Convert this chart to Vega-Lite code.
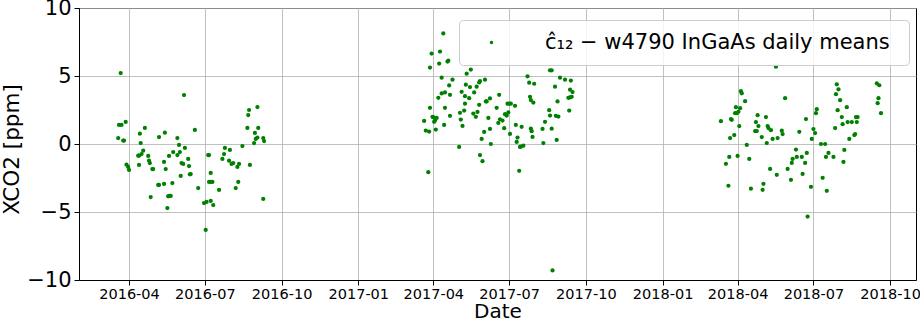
{
  "$schema": "https://vega.github.io/schema/vega-lite/v6.json",
  "width": 837,
  "height": 272,
  "autosize": {"type": "none"},
  "padding": {"left": 79, "top": 8, "right": 4, "bottom": 42},
  "background": "white",
  "config": {
    "view": {"stroke": "black", "strokeWidth": 1},
    "font": "DejaVu Sans",
    "axis": {
      "grid": true,
      "gridColor": "#b0b0b0",
      "gridWidth": 0.8,
      "domainColor": "black",
      "tickColor": "black",
      "labelColor": "black",
      "titleColor": "black",
      "titleFontWeight": "normal",
      "tickSize": 5,
      "labelFlush": false,
      "labelOverlap": false
    }
  },
  "data": {"values": [
    {"date":"2016-03-22","xco2":5.22},{"date":"2016-06-06","xco2":3.60},{"date":"2016-03-20","xco2":1.40},{"date":"2016-03-23","xco2":1.40},
    {"date":"2016-03-28","xco2":1.62},{"date":"2016-03-19","xco2":0.44},{"date":"2016-03-25","xco2":0.25},{"date":"2016-03-26","xco2":0.25},
    {"date":"2016-03-29","xco2":-1.52},{"date":"2016-03-31","xco2":-1.69},{"date":"2016-04-01","xco2":-1.91},{"date":"2016-04-14","xco2":0.76},
    {"date":"2016-04-20","xco2":1.18},{"date":"2016-04-15","xco2":0.07},{"date":"2016-04-18","xco2":-0.49},{"date":"2016-04-16","xco2":-0.74},
    {"date":"2016-04-13","xco2":-0.86},{"date":"2016-04-12","xco2":-0.86},{"date":"2016-04-13","xco2":-1.54},{"date":"2016-04-24","xco2":-0.88},
    {"date":"2016-04-25","xco2":-1.23},{"date":"2016-04-26","xco2":-1.40},{"date":"2016-04-29","xco2":-1.84},{"date":"2016-04-30","xco2":-1.84},
    {"date":"2016-04-27","xco2":-3.90},{"date":"2016-05-07","xco2":0.51},{"date":"2016-05-14","xco2":0.83},{"date":"2016-05-13","xco2":-1.32},
    {"date":"2016-05-15","xco2":-1.84},{"date":"2016-05-06","xco2":-3.01},{"date":"2016-05-07","xco2":-3.01},{"date":"2016-05-13","xco2":-2.94},
    {"date":"2016-05-23","xco2":-2.87},{"date":"2016-05-18","xco2":-3.85},{"date":"2016-05-19","xco2":-3.82},{"date":"2016-05-21","xco2":-3.82},
    {"date":"2016-05-17","xco2":-4.71},{"date":"2016-05-19","xco2":-0.88},{"date":"2016-05-24","xco2":-0.59},{"date":"2016-05-29","xco2":0.44},
    {"date":"2016-05-31","xco2":-0.07},{"date":"2016-05-29","xco2":-0.81},{"date":"2016-06-01","xco2":-0.59},{"date":"2016-06-07","xco2":-0.29},
    {"date":"2016-06-03","xco2":-1.40},{"date":"2016-06-05","xco2":-1.47},{"date":"2016-06-02","xco2":-2.35},{"date":"2016-06-11","xco2":-1.10},
    {"date":"2016-06-12","xco2":-1.62},{"date":"2016-06-13","xco2":-2.23},{"date":"2016-06-14","xco2":-2.21},{"date":"2016-06-19","xco2":1.03},
    {"date":"2016-06-23","xco2":-3.24},{"date":"2016-07-05","xco2":-0.81},{"date":"2016-07-06","xco2":-0.81},{"date":"2016-07-08","xco2":-2.13},
    {"date":"2016-07-06","xco2":-2.79},{"date":"2016-07-08","xco2":-2.79},{"date":"2016-07-10","xco2":-2.79},{"date":"2016-06-30","xco2":-4.34},
    {"date":"2016-07-03","xco2":-4.26},{"date":"2016-07-08","xco2":-4.19},{"date":"2016-07-11","xco2":-4.49},{"date":"2016-07-02","xco2":-6.32},
    {"date":"2016-07-18","xco2":-3.38},{"date":"2016-07-25","xco2":-0.29},{"date":"2016-07-31","xco2":-0.44},{"date":"2016-07-24","xco2":-0.74},
    {"date":"2016-07-22","xco2":-1.10},{"date":"2016-07-30","xco2":-1.23},{"date":"2016-08-02","xco2":-1.47},{"date":"2016-08-04","xco2":-1.40},
    {"date":"2016-08-09","xco2":-1.69},{"date":"2016-08-11","xco2":-1.47},{"date":"2016-08-07","xco2":-3.24},{"date":"2016-08-10","xco2":-2.79},
    {"date":"2016-08-15","xco2":-0.15},{"date":"2016-08-24","xco2":-1.54},{"date":"2016-08-21","xco2":1.18},{"date":"2016-08-30","xco2":0.81},
    {"date":"2016-08-22","xco2":2.13},{"date":"2016-08-23","xco2":2.50},{"date":"2016-09-02","xco2":2.72},{"date":"2016-09-03","xco2":1.18},
    {"date":"2016-08-31","xco2":0.37},{"date":"2016-09-02","xco2":0.47},{"date":"2016-09-09","xco2":0.44},{"date":"2016-09-10","xco2":0.22},
    {"date":"2016-08-29","xco2":0.07},{"date":"2016-09-09","xco2":-4.04},

    {"date":"2017-04-13","xco2":8.13},{"date":"2017-03-30","xco2":6.65},{"date":"2017-04-09","xco2":6.80},
    {"date":"2017-04-08","xco2":5.91},{"date":"2017-04-18","xco2":6.06},{"date":"2017-04-19","xco2":6.13},{"date":"2017-03-28","xco2":5.62},
    {"date":"2017-04-11","xco2":4.88},{"date":"2017-04-24","xco2":4.73},{"date":"2017-04-20","xco2":4.31},{"date":"2017-05-11","xco2":5.17},
    {"date":"2017-05-16","xco2":5.47},{"date":"2017-05-26","xco2":4.53},{"date":"2017-05-27","xco2":4.63},{"date":"2017-06-02","xco2":4.73},
    {"date":"2017-05-10","xco2":4.36},{"date":"2017-05-15","xco2":4.19},{"date":"2017-05-23","xco2":4.21},{"date":"2017-05-20","xco2":3.79},
    {"date":"2017-05-05","xco2":3.84},{"date":"2017-05-09","xco2":3.52},{"date":"2017-05-14","xco2":3.37},{"date":"2017-06-08","xco2":3.35},
    {"date":"2017-06-19","xco2":3.62},{"date":"2017-04-11","xco2":3.72},{"date":"2017-04-15","xco2":3.79},{"date":"2017-04-21","xco2":3.62},
    {"date":"2017-04-07","xco2":3.40},{"date":"2017-04-15","xco2":2.66},{"date":"2017-03-28","xco2":2.66},{"date":"2017-03-21","xco2":1.70},
    {"date":"2017-03-31","xco2":2.00},{"date":"2017-04-01","xco2":1.97},{"date":"2017-04-05","xco2":1.92},{"date":"2017-04-03","xco2":1.72},
    {"date":"2017-04-02","xco2":1.63},{"date":"2017-03-23","xco2":0.99},{"date":"2017-03-27","xco2":0.91},{"date":"2017-04-04","xco2":1.06},
    {"date":"2017-04-14","xco2":1.40},{"date":"2017-04-21","xco2":2.07},{"date":"2017-05-02","xco2":-0.22},{"date":"2017-03-26","xco2":-2.07},
    {"date":"2017-05-09","xco2":2.96},{"date":"2017-05-03","xco2":2.29},{"date":"2017-05-08","xco2":2.46},{"date":"2017-05-04","xco2":1.80},
    {"date":"2017-05-06","xco2":1.33},{"date":"2017-05-19","xco2":2.24},{"date":"2017-05-22","xco2":2.00},{"date":"2017-05-24","xco2":2.36},
    {"date":"2017-05-26","xco2":2.88},{"date":"2017-06-03","xco2":3.13},{"date":"2017-06-04","xco2":3.13},{"date":"2017-06-06","xco2":1.92},
    {"date":"2017-06-08","xco2":1.11},{"date":"2017-06-01","xco2":0.89},{"date":"2017-05-29","xco2":0.37},{"date":"2017-06-09","xco2":0.00},
    {"date":"2017-05-27","xco2":-0.81},{"date":"2017-05-30","xco2":-1.26},{"date":"2017-06-16","xco2":2.66},{"date":"2017-06-18","xco2":1.55},
    {"date":"2017-06-20","xco2":1.82},{"date":"2017-06-23","xco2":1.72},{"date":"2017-06-25","xco2":1.16},{"date":"2017-06-26","xco2":2.19},
    {"date":"2017-06-28","xco2":2.09},{"date":"2017-06-29","xco2":2.96},{"date":"2017-07-01","xco2":2.96},{"date":"2017-07-03","xco2":2.96},
    {"date":"2017-06-30","xco2":2.32},{"date":"2017-07-08","xco2":2.81},{"date":"2017-07-02","xco2":0.74},{"date":"2017-07-09","xco2":1.40},
    {"date":"2017-07-16","xco2":1.26},{"date":"2017-07-11","xco2":0.47},{"date":"2017-07-10","xco2":0.15},{"date":"2017-07-15","xco2":-0.20},
    {"date":"2017-07-14","xco2":-0.22},{"date":"2017-07-18","xco2":-0.12},{"date":"2017-07-13","xco2":-1.97},{"date":"2017-07-27","xco2":1.13},
    {"date":"2017-07-28","xco2":0.94},{"date":"2017-07-29","xco2":0.52},{"date":"2017-07-23","xco2":4.98},{"date":"2017-07-25","xco2":4.51},
    {"date":"2017-07-31","xco2":4.43},{"date":"2017-07-26","xco2":3.47},{"date":"2017-07-27","xco2":3.23},{"date":"2017-07-30","xco2":3.05},
    {"date":"2017-08-10","xco2":1.11},{"date":"2017-08-11","xco2":0.07},{"date":"2017-08-13","xco2":1.63},{"date":"2017-08-18","xco2":2.49},
    {"date":"2017-08-19","xco2":2.09},{"date":"2017-08-21","xco2":1.13},{"date":"2017-08-27","xco2":0.30},{"date":"2017-08-26","xco2":2.07},
    {"date":"2017-08-29","xco2":2.02},{"date":"2017-08-28","xco2":3.13},{"date":"2017-08-19","xco2":5.42},{"date":"2017-08-21","xco2":5.42},
    {"date":"2017-08-25","xco2":4.21},{"date":"2017-08-31","xco2":4.88},{"date":"2017-09-06","xco2":4.73},{"date":"2017-09-13","xco2":4.66},
    {"date":"2017-09-12","xco2":3.99},{"date":"2017-09-15","xco2":3.82},{"date":"2017-09-10","xco2":3.40},{"date":"2017-09-12","xco2":3.42},
    {"date":"2017-09-14","xco2":3.47},{"date":"2017-09-11","xco2":2.46},{"date":"2017-08-22","xco2":-9.30},

    {"date":"2018-05-17","xco2":5.68},{"date":"2018-04-05","xco2":3.88},{"date":"2018-04-06","xco2":3.73},{"date":"2018-04-10","xco2":3.15},
    {"date":"2018-03-30","xco2":2.71},{"date":"2018-04-04","xco2":2.63},{"date":"2018-03-29","xco2":2.27},{"date":"2018-03-31","xco2":2.27},
    {"date":"2018-04-02","xco2":2.37},{"date":"2018-03-24","xco2":1.83},{"date":"2018-03-25","xco2":1.78},{"date":"2018-03-12","xco2":1.68},
    {"date":"2018-04-03","xco2":1.32},{"date":"2018-03-28","xco2":0.66},{"date":"2018-03-23","xco2":0.44},{"date":"2018-04-12","xco2":-0.07},
    {"date":"2018-03-22","xco2":-0.95},{"date":"2018-04-01","xco2":-0.88},{"date":"2018-03-18","xco2":-1.46},{"date":"2018-04-15","xco2":-1.10},
    {"date":"2018-03-21","xco2":-3.07},{"date":"2018-04-17","xco2":-3.29},{"date":"2018-05-01","xco2":-3.37},{"date":"2018-05-02","xco2":-2.93},
    {"date":"2018-05-10","xco2":-1.83},{"date":"2018-05-18","xco2":-2.27},{"date":"2018-04-25","xco2":2.12},{"date":"2018-05-05","xco2":1.98},
    {"date":"2018-04-23","xco2":1.61},{"date":"2018-04-26","xco2":1.32},{"date":"2018-04-22","xco2":0.95},{"date":"2018-04-24","xco2":0.95},
    {"date":"2018-05-07","xco2":1.32},{"date":"2018-05-08","xco2":1.17},{"date":"2018-05-11","xco2":1.02},{"date":"2018-04-30","xco2":0.51},
    {"date":"2018-05-06","xco2":0.07},{"date":"2018-05-13","xco2":0.37},{"date":"2018-05-19","xco2":0.44},{"date":"2018-05-24","xco2":0.98},
    {"date":"2018-05-25","xco2":0.73},{"date":"2018-05-28","xco2":3.37},{"date":"2018-06-14","xco2":0.90},{"date":"2018-06-22","xco2":1.83},
    {"date":"2018-06-10","xco2":-0.41},{"date":"2018-06-06","xco2":-1.10},{"date":"2018-06-11","xco2":-0.95},{"date":"2018-06-17","xco2":-0.95},
    {"date":"2018-06-23","xco2":-0.66},{"date":"2018-06-05","xco2":-1.39},{"date":"2018-06-21","xco2":-1.39},{"date":"2018-05-31","xco2":-1.83},
    {"date":"2018-06-04","xco2":-2.63},{"date":"2018-06-18","xco2":-2.20},{"date":"2018-06-24","xco2":-5.34},{"date":"2018-06-28","xco2":-3.15},
    {"date":"2018-06-29","xco2":0.37},{"date":"2018-07-01","xco2":1.10},{"date":"2018-07-03","xco2":0.80},{"date":"2018-07-04","xco2":2.27},
    {"date":"2018-07-05","xco2":2.56},{"date":"2018-07-10","xco2":0.00},{"date":"2018-07-15","xco2":0.00},{"date":"2018-07-16","xco2":-0.95},
    {"date":"2018-07-19","xco2":-0.66},{"date":"2018-07-25","xco2":-0.95},{"date":"2018-07-12","xco2":-2.49},{"date":"2018-07-17","xco2":-3.44},
    {"date":"2018-07-27","xco2":1.17},{"date":"2018-07-29","xco2":4.39},{"date":"2018-07-31","xco2":4.02},{"date":"2018-07-28","xco2":3.66},
    {"date":"2018-08-02","xco2":3.22},{"date":"2018-07-30","xco2":2.49},{"date":"2018-08-04","xco2":1.98},{"date":"2018-08-10","xco2":2.71},
    {"date":"2018-08-05","xco2":1.46},{"date":"2018-08-11","xco2":1.61},{"date":"2018-08-16","xco2":1.61},{"date":"2018-08-21","xco2":1.98},
    {"date":"2018-08-22","xco2":1.61},{"date":"2018-08-23","xco2":1.98},{"date":"2018-08-13","xco2":0.37},{"date":"2018-08-19","xco2":0.66},
    {"date":"2018-08-20","xco2":0.73},{"date":"2018-08-07","xco2":-0.44},{"date":"2018-08-06","xco2":-1.32},{"date":"2018-09-15","xco2":4.46},
    {"date":"2018-09-18","xco2":4.32},{"date":"2018-09-17","xco2":3.37},{"date":"2018-09-16","xco2":3.00},{"date":"2018-09-20","xco2":2.27}
  ]},
  "mark": {"type": "circle", "size": 18, "opacity": 1},
  "encoding": {
    "x": {
      "field": "date",
      "type": "temporal",
      "scale": {
        "type": "utc",
        "domain": [
          {"year": 2016, "month": 2, "date": 1, "utc": true},
          {"year": 2018, "month": 11, "date": 1, "utc": true}
        ]
      },
      "axis": {
        "title": "Date",
        "titleFontSize": 20,
        "labelFontSize": 14.5,
        "labelPadding": 2,
        "titlePadding": 1,
        "format": "%Y-%m",
        "values": [
          {"year": 2016, "month": 4, "date": 1, "utc": true},
          {"year": 2016, "month": 7, "date": 1, "utc": true},
          {"year": 2016, "month": 10, "date": 1, "utc": true},
          {"year": 2017, "month": 1, "date": 1, "utc": true},
          {"year": 2017, "month": 4, "date": 1, "utc": true},
          {"year": 2017, "month": 7, "date": 1, "utc": true},
          {"year": 2017, "month": 10, "date": 1, "utc": true},
          {"year": 2018, "month": 1, "date": 1, "utc": true},
          {"year": 2018, "month": 4, "date": 1, "utc": true},
          {"year": 2018, "month": 7, "date": 1, "utc": true},
          {"year": 2018, "month": 10, "date": 1, "utc": true}
        ]
      }
    },
    "y": {
      "field": "xco2",
      "type": "quantitative",
      "scale": {"domain": [-10, 10], "nice": false, "zero": false},
      "axis": {
        "title": "XCO2 [ppm]",
        "titleFontSize": 21.5,
        "titleY": 141,
        "labelFontSize": 21,
        "labelPadding": 3,
        "titlePadding": 3,
        "values": [-10, -5, 0, 5, 10]
      }
    },
    "color": {
      "datum": "ĉ₁₂ −  w4790 InGaAs daily means",
      "scale": {"range": ["#008000"]},
      "legend": {
        "orient": "none",
        "legendX": 380,
        "legendY": 12,
        "title": null,
        "labelFontSize": 21,
        "labelColor": "black",
        "labelLimit": 1000,
        "symbolType": "circle",
        "symbolSize": 12,
        "padding": 12,
        "symbolOffset": 10,
        "labelOffset": 43,
        "fillColor": "rgba(255,255,255,0.8)",
        "strokeColor": "#cccccc",
        "cornerRadius": 4
      }
    }
  }
}
